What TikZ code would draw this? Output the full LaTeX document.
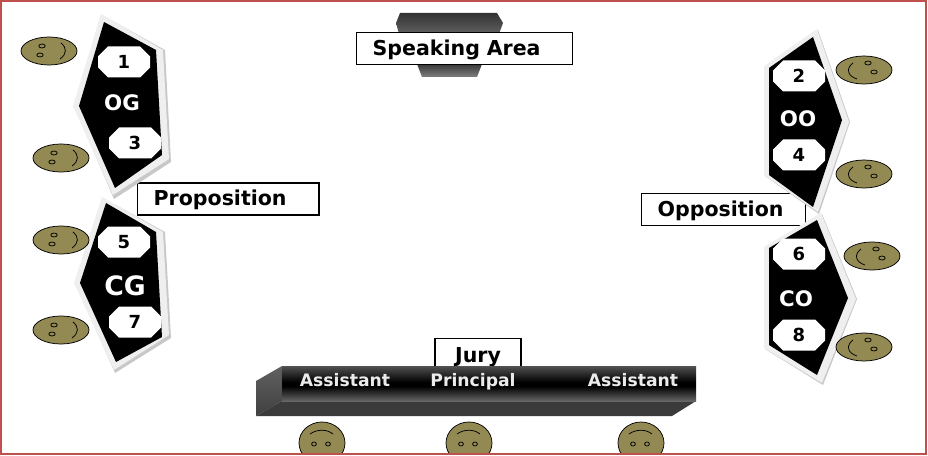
\documentclass[tikz,border=0pt]{standalone}
\usepackage{fontspec}
\setmainfont{DejaVu Sans}
\definecolor{frameRed}{HTML}{C0504D}
\definecolor{faceOlive}{HTML}{938953}
\definecolor{rimLight}{HTML}{EFEFEF}
\definecolor{rimShadow}{HTML}{C8C8C8}
\pgfdeclareverticalshading{barFront}{100bp}{color(0bp)=(black!60); color(25bp)=(black!60); color(46bp)=(black); color(52bp)=(black); color(75bp)=(black!68); color(100bp)=(black!68)}
\pgfdeclareverticalshading{barSide}{100bp}{color(0bp)=(black!75); color(25bp)=(black!75); color(75bp)=(black!62); color(100bp)=(black!62)}
\pgfdeclareverticalshading{standTop}{100bp}{color(0bp)=(black!62); color(25bp)=(black!62); color(75bp)=(black!80); color(100bp)=(black!80)}
\pgfdeclareverticalshading{standLow}{100bp}{color(0bp)=(black!50); color(25bp)=(black!50); color(75bp)=(black!78); color(100bp)=(black!78)}
\tikzset{
    octnum/.style={inner sep=0pt, font=\bfseries\fontsize{13.5}{13.5}\selectfont},
    octpad/.pic={
        \fill[white] (-26,-5.5) -- (-16,-15.5) -- (16,-15.5) -- (26,-5.5) -- (26,5.5) -- (16,15.5) -- (-16,15.5) -- (-26,5.5) -- cycle;
        \node[octnum] (-num) at (0,0) {#1};
    },
    teamname/.style={text=white, inner sep=0pt, font=\bfseries\fontsize{16}{16}\selectfont},
    labelbox/.style={draw=black, fill=white, line width=1pt, inner xsep=12pt, align=left, minimum height=24pt, text height=12.4pt, text depth=2.4pt, anchor=west, font=\bfseries\fontsize{15.4}{15.4}\selectfont},
    benchname/.style={text=black!8, inner sep=0pt, anchor=base, font=\bfseries\fontsize{12.9}{12.9}\selectfont},
    headbit/.style={draw=black, line width=.55pt},
    faceleft/.pic={
        \draw[headbit, fill=faceOlive] (0,0) ellipse (28 and 14);
        \draw[headbit] (-7,-5) ellipse (3.2 and 2);
        \draw[headbit] (-9,4) ellipse (3.2 and 2);
        \draw[headbit] (12,-8) .. controls (18,-3) and (18,3) .. (11,8);
    },
    faceright/.pic={
        \draw[headbit, fill=faceOlive] (0,0) ellipse (28 and 14);
        \draw[headbit] (4,-7) ellipse (3.2 and 2);
        \draw[headbit] (10,2) ellipse (3.2 and 2);
        \draw[headbit] (-11,-7) .. controls (-18,-2) and (-17,6) .. (-7,9);
    },
    facejury/.pic={
        \draw[headbit, fill=faceOlive] (0,0) ellipse (23 and 21);
        \draw[headbit] (-8,1) ellipse (2.4 and 2);
        \draw[headbit] (6,1) ellipse (2.4 and 2);
        \draw[headbit] (-12,-9) .. controls (-5,-14) and (5,-14) .. (11,-9);
    }
}
\begin{document}
\begin{tikzpicture}[x=.75pt,y=-.75pt]
    \useasboundingbox (0,0) rectangle (928,456);

    % speaking area
    \shade[shading=standTop] (400,13) -- (497,13) -- (503,23) -- (499,34) -- (399,34) -- (396,23) -- cycle;
    \shade[shading=standLow] (417,64) -- (482,64) -- (477,77) -- (422,77) -- cycle;
    \node[labelbox, text width=138pt] (speaking) at (356,48.5) {Speaking Area};

    % side labels
    \node[labelbox, text width=112pt] (proposition) at (137,199) {Proposition};
    \node[labelbox, text width=99pt] (opposition) at (641,209.5) {Opposition};

    % the four teams
    \fill[rimShadow] (102,15) -- (165,50) -- (171,162) -- (114,199) -- (74,106) -- cycle;
    \fill[rimLight] (101,14) -- (163,50) -- (169,159) -- (113,195) -- (73,106) -- cycle;
    \fill[black] (104,22) -- (156,50) -- (162,155) -- (115,188) -- (79,106) -- cycle;
    \fill[rimShadow] (103,198) -- (165,232) -- (171,338) -- (115,373) -- (75,283) -- cycle;
    \fill[rimLight] (102,197) -- (163,232) -- (169,335) -- (114,370) -- (74,283) -- cycle;
    \fill[black] (106,203) -- (156,232) -- (162,337) -- (116,362) -- (80,283) -- cycle;
    \fill[rimShadow] (765,67) -- (818,30) -- (850,122) -- (819,214) -- (765,176) -- cycle;
    \fill[rimLight] (764,66) -- (817,29) -- (849,122) -- (818,212) -- (764,175) -- cycle;
    \fill[black] (769,68) -- (813,37) -- (842,120) -- (813,207) -- (769,175) -- cycle;
    \fill[rimShadow] (765,248) -- (822,214) -- (857,299) -- (823,385) -- (765,349) -- cycle;
    \fill[rimLight] (764,247) -- (821,213) -- (856,299) -- (822,383) -- (764,348) -- cycle;
    \fill[black] (769,248) -- (817,220) -- (848,298) -- (817,375) -- (769,345) -- cycle;

    \node[teamname] (og) at (122,103) {OG};
    \node[teamname, font=\bfseries\fontsize{20}{20}\selectfont] (cg) at (125,286) {CG};
    \node[teamname] (oo) at (798,119) {OO};
    \node[teamname] (co) at (796,299) {CO};

    \pic (sp1) at (124,62) {octpad=1};
    \pic (sp3) at (135,143) {octpad=3};
    \pic (sp5) at (124,242) {octpad=5};
    \pic (sp7) at (135,322) {octpad=7};
    \pic (sp2) at (799,76) {octpad=2};
    \pic (sp4) at (799,155) {octpad=4};
    \pic (sp6) at (799,254) {octpad=6};
    \pic (sp8) at (799,335) {octpad=8};

    % speakers
    \pic at (49,51) {faceleft};
    \pic at (61,158) {faceleft};
    \pic at (61,240) {faceleft};
    \pic at (61,330) {faceleft};
    \pic at (864,70) {faceright};
    \pic at (864,174) {faceright};
    \pic at (872,256) {faceright};
    \pic at (864,347) {faceright};

    % jury bench
    \node[labelbox, anchor=north, align=center, inner xsep=0pt, inner ysep=4pt, minimum width=64.5pt, text height=14pt, text depth=6pt] (jury) at (478,338) {Jury};
    \shade[shading=barSide] (256,381) -- (282,366) -- (282,401) -- (256,416) -- cycle;
    \fill[black!77] (256,416) -- (282,401) -- (696,401) -- (672,416) -- cycle;
    \shade[shading=barFront] (282,366) rectangle (696,401);
    \node[benchname] (assistantA) at (345,386) {Assistant};
    \node[benchname] (principal) at (473,386) {Principal};
    \node[benchname] (assistantB) at (633,386) {Assistant};

    \begin{scope}
        \clip (0,0) rectangle (928,453);
        \pic at (322,443) {facejury};
        \pic at (469,443) {facejury};
        \pic at (641,443) {facejury};
    \end{scope}

    % outer frame
    \draw[frameRed, line width=1.2pt] (1,1) -- (926,1) -- (926,454) -- (1,454) -- cycle;
\end{tikzpicture}
\end{document}
